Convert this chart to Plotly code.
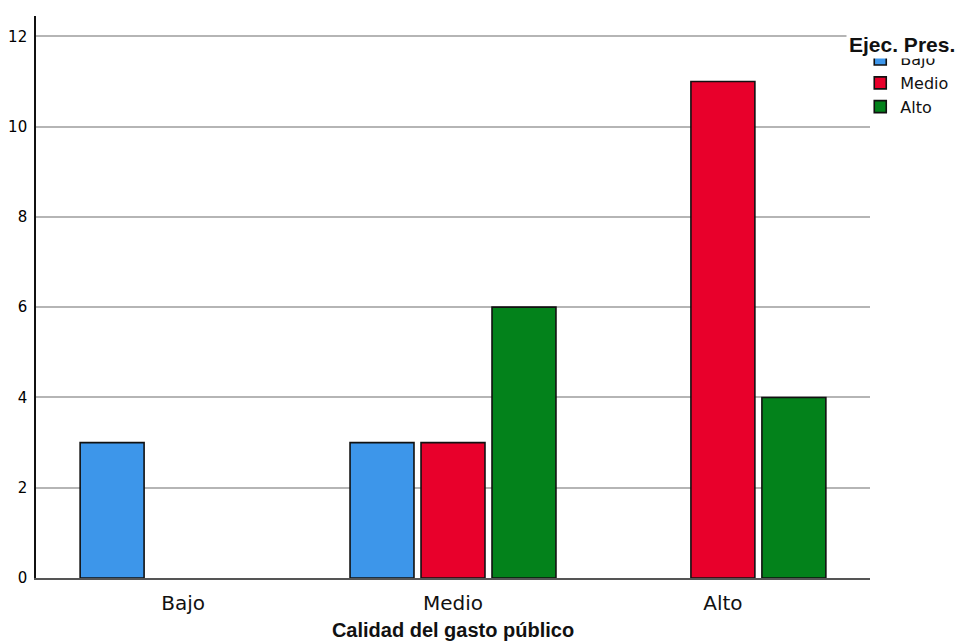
import plotly.graph_objects as go

categories = ["Bajo", "Medio", "Alto"]
series_names = ["Bajo", "Medio", "Alto"]
values_bajo = [3, 3, None]
values_medio = [None, 3, 11]
values_alto = [None, 6, 4]
colors = ["#3d96ea", "#e8002b", "#03821b"]
y_ticks = [0, 2, 4, 6, 8, 10, 12]

fig = go.Figure()
for name, vals, col in zip(series_names, [values_bajo, values_medio, values_alto], colors):
    fig.add_trace(go.Bar(
        x=categories, y=vals, name=name,
        marker=dict(color=col, line=dict(color="#111111", width=1.6)),
    ))

fig.update_layout(
    width=963, height=644,
    margin=dict(l=28, r=101, t=8, b=74, autoexpand=False),
    paper_bgcolor="white", plot_bgcolor="white",
    barmode="group", bargap=0.211, bargroupgap=0.099,
    font=dict(family="DejaVu Sans", color="#111111"),
    xaxis=dict(
        type="category", range=[-0.545, 2.545],
        showline=True, linecolor="#555555", linewidth=1.6,
        showgrid=False, ticks="", zeroline=False,
        tickfont=dict(family="DejaVu Sans", size=20, color="#111111"),
        ticklabelstandoff=6,
        title=dict(text="<b>Calidad del gasto público</b>",
                   font=dict(family="Liberation Sans", size=20, color="#111111"),
                   standoff=9),
    ),
    yaxis=dict(
        range=[0, 12.45], tickvals=y_ticks,
        showline=True, linecolor="#111111", linewidth=1.6,
        showgrid=True, gridcolor="#b5b5b5", gridwidth=1.5,
        zeroline=False, ticks="",
        tickfont=dict(family="DejaVu Sans", size=15, color="#000000"),
        ticklabelstandoff=4,
    ),
    legend=dict(
        xref="container", yref="container",
        x=0.885, y=0.947, xanchor="left", yanchor="top",
        font=dict(family="DejaVu Sans", size=16, color="#111111"),
        bgcolor="rgba(0,0,0,0)", borderwidth=0,
        itemclick=False, itemdoubleclick=False,
    ),
    annotations=[dict(
        text="<b>Ejec. Pres.</b>", xref="paper", yref="paper",
        x=1.038, y=0.950, xanchor="center", yanchor="middle",
        showarrow=False, bgcolor="white", borderpad=2,
        font=dict(family="Liberation Sans", size=21, color="#111111"),
    )],
)

fig.write_html("out.html")
